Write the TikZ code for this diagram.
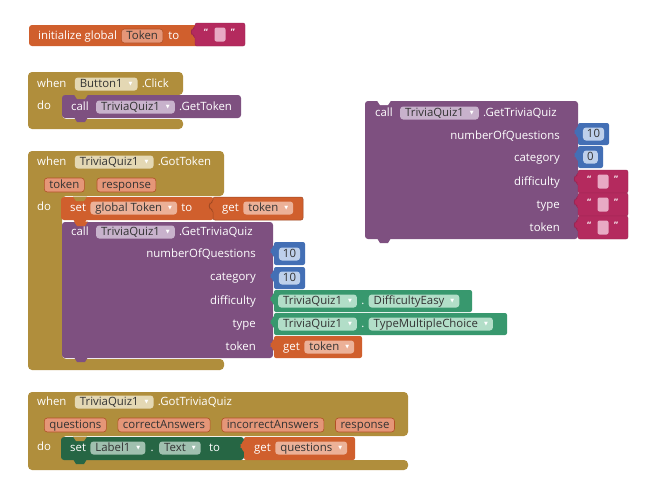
\documentclass[tikz,border=0pt]{standalone}
\usepackage{fontspec}
\setmainfont{Open Sans}
\newfontfamily\symf{DejaVu Sans}
\usepackage{tikz}
\usetikzlibrary{positioning}
\definecolor{ctrl}{RGB}{176,142,60}
\definecolor{ctrllt}{RGB}{228,216,180}
\definecolor{vars}{RGB}{208,95,45}
\definecolor{varslt}{RGB}{236,177,152}
\definecolor{argc}{RGB}{229,150,120}
\definecolor{txt}{RGB}{180,42,94}
\definecolor{txtlt}{RGB}{232,170,196}
\definecolor{comp}{RGB}{126,80,128}
\definecolor{complt}{RGB}{200,178,204}
\definecolor{math}{RGB}{67,111,181}
\definecolor{mathlt}{RGB}{190,208,235}
\definecolor{enum}{RGB}{56,152,110}
\definecolor{enumlt}{RGB}{178,222,200}
\definecolor{setc}{RGB}{38,102,68}
\definecolor{setlt}{RGB}{160,192,175}

% dropdown arrow inside a field
\newcommand\dd{\hspace{6pt}\textcolor{white}{\symf\fontsize{5}{5}\selectfont\raisebox{1.5pt}{▼}}}
% value block with its tab on the left: [extra]{colour}{x1}{y1}{x2}{y2}
\newcommand\valblk[6][]{%
  \path[fill=#2,rounded corners=2pt,#1] (#3,#4+13) -- (#3-3,#4+12) -- (#3-4,#4+9) -- (#3-3,#4+6)
    -- (#3,#4+5) -- (#3,#4) -- (#5,#4) -- (#5,#6) -- (#3,#6) -- cycle;}
% statement block: {colour}{x1}{y1}{x2}{y2}{colour of the notch on top}
\newcommand\stmblk[6]{%
  \fill[#1,rounded corners=3pt] (#2,#3) rectangle (#4,#5);
  \fill[#1] (#2+12,#5-1) -- (#2+15,#5+4) -- (#2+23,#5+4) -- (#2+26,#5-1) -- cycle;
  \fill[#6] (#2+12,#3-0.5) -- (#2+15,#3+4) -- (#2+23,#3+4) -- (#2+26,#3-0.5) -- cycle;}
% event handler: {y top}{x right}{y do top}{y do bottom}{y bottom}
\newcommand\evblk[5]{%
  \fill[ctrl,rounded corners=4pt] (28,#1) -- (#2,#1) -- (#2,#3) -- (62,#3) -- (62,#4)
    -- (#2,#4) -- (#2,#5) -- (28,#5) -- cycle;}
% text block: {name}{x}{y top}
\newcommand\strval[3]{%
  \valblk[draw=txt!85!black,line width=0.4pt]{txt}{#2}{#3}{#2+50}{#3+23}
  \node[qt] (#1l) at (#2+11,#3+9) {“};
  \node[sq] (#1) at (#2+25,#3+11.5) {};
  \node[qt] (#1r) at (#2+38,#3+9) {”};}

\begin{document}
\begin{tikzpicture}[x=1pt, y=-1pt, font=\fontsize{11.4}{13}\selectfont,
    lbl/.style={text=white, inner sep=0pt, anchor=west, text height=8.5pt, text depth=2.5pt},
    chip/.style={fill=#1, rounded corners=3pt, inner xsep=5pt, inner ysep=0pt,
                 minimum height=13pt, text height=8.5pt, text depth=2.5pt, text=black!80},
    arg/.style={chip=#1, draw=vars!85!black, line width=0.6pt, minimum height=14pt},
    num/.style={chip=mathlt, inner xsep=4pt},
    qt/.style={text=white, inner sep=0pt, font=\small\bfseries},
    sq/.style={fill=txtlt, rounded corners=2pt, minimum width=11pt, minimum height=14pt, inner sep=0pt}]
  \useasboundingbox (0,0) rectangle (665,483);
  \fill[white] (0,0) rectangle (665,483);

  % initialize global Token
  \fill[vars,rounded corners=3pt] (29,25) rectangle (200,46);
  \node[lbl] (ini) at (38,36) {initialize global};
  \node[arg=argc, right=4pt of ini] (gtok) {Token};
  \node[lbl, right=5pt of gtok] (ito) {to};
  \strval{s0}{195}{23}

  % when Button1.Click
  \evblk{72}{183}{95}{119}{129}
  \node[lbl] (wb) at (37,84) {when};
  \node[chip=ctrllt, right=8pt of wb] (btn) {Button1\dd};
  \node[lbl, right=4pt of btn] (clk) {.Click};
  \node[lbl] (dob) at (37,106) {do};
  \stmblk{comp}{62}{95}{241}{118}{ctrl}
  \node[lbl] (cb) at (71,107) {call};
  \node[chip=complt, right=7pt of cb] (tq0) {TriviaQuiz1\dd};
  \node[lbl, right=4pt of tq0] (gt) {.GetToken};

  % loose call block
  \stmblk{comp}{365}{101}{578}{239}{white}
  \node[lbl] (cc) at (375,113) {call};
  \node[chip=complt, right=7pt of cc] (tq1) {TriviaQuiz1\dd};
  \node[lbl, right=4pt of tq1] (gtq1) {.GetTriviaQuiz};
  \foreach \n/\t/\y in {nq/numberOfQuestions/136, ca/category/158, di/difficulty/182, ty/type/205, to/token/228}
    \node[lbl, anchor=east] (c\n) at (560,\y) {\t};
  \valblk{math}{578}{123}{609}{145}
  \node[num] (cn1) at (593.5,134) {10};
  \valblk{math}{578}{146}{603}{168}
  \node[num] (cn2) at (590.5,157) {0};
  \strval{s1}{578}{170}
  \strval{s2}{578}{193}
  \strval{s3}{578}{216}

  % when TriviaQuiz1.GotToken
  \evblk{151}{224}{196}{359}{370}
  \node[lbl] (wd) at (37,162) {when};
  \node[chip=ctrllt, right=8pt of wd] (tq2) {TriviaQuiz1\dd};
  \node[lbl, right=4pt of tq2] (gtk) {.GotToken};
  \node[arg=argc, anchor=west] (ptok) at (44,185) {token};
  \node[arg=argc, right=12pt of ptok] (presp) {response};
  \node[lbl] (dod) at (37,207) {do};
  \stmblk{comp}{62}{222}{273}{358}{vars}
  \stmblk{vars}{61}{197}{214}{220}{ctrl}
  \node[lbl] (sd) at (70,208) {set};
  \node[chip=varslt, right=4pt of sd] (gvt) {global Token\dd};
  \node[lbl, right=4pt of gvt] (sto) {to};
  \valblk[draw=vars!75!black,line width=0.5pt]{vars}{213}{197}{303}{220}
  \node[lbl] (g1) at (222,208) {get};
  \node[chip=varslt, right=4pt of g1] (gv1) {token\dd};
  \node[lbl] (cd) at (71,232) {call};
  \node[chip=complt, right=7pt of cd] (tq3) {TriviaQuiz1\dd};
  \node[lbl, right=4pt of tq3] (gtq3) {.GetTriviaQuiz};
  \foreach \n/\t/\y in {nq/numberOfQuestions/254, ca/category/277, di/difficulty/301, ty/type/324, to/token/347}
    \node[lbl, anchor=east] (d\n) at (256,\y) {\t};
  \valblk{math}{274}{242}{305}{265}
  \node[num] (dn1) at (289.5,254) {10};
  \valblk{math}{274}{267}{305}{289}
  \node[num] (dn2) at (289.5,278) {10};
  \valblk{enum}{274}{290}{472}{312}
  \node[chip=enumlt, anchor=west] (e1a) at (278,301) {TriviaQuiz1\dd};
  \node[lbl, right=4pt of e1a] (e1d) {.};
  \node[chip=enumlt, right=4pt of e1d] (e1b) {DifficultyEasy\dd};
  \valblk{enum}{274}{313}{507}{335}
  \node[chip=enumlt, anchor=west] (e2a) at (278,324) {TriviaQuiz1\dd};
  \node[lbl, right=4pt of e2a] (e2d) {.};
  \node[chip=enumlt, right=4pt of e2d] (e2b) {TypeMultipleChoice\dd};
  \valblk{vars}{274}{336}{362}{358}
  \node[lbl] (g2) at (283,347) {get};
  \node[chip=varslt, right=4pt of g2] (gv2) {token\dd};

  % when TriviaQuiz1.GotTriviaQuiz
  \evblk{392}{408}{436}{460}{470}
  \node[lbl] (we) at (37,402) {when};
  \node[chip=ctrllt, right=8pt of we] (tq4) {TriviaQuiz1\dd};
  \node[lbl, right=4pt of tq4] (gtq4) {.GotTriviaQuiz};
  \node[arg=argc, anchor=west] (pq) at (44,425) {questions};
  \node[arg=argc, right=11pt of pq] (pca) {correctAnswers};
  \node[arg=argc, right=11pt of pca] (pia) {incorrectAnswers};
  \node[arg=argc, right=11pt of pia] (pre) {response};
  \node[lbl] (doe) at (37,447) {do};
  \stmblk{setc}{61}{437}{244}{460}{ctrl}
  \node[lbl] (se) at (70,448) {set};
  \node[chip=setlt, right=4pt of se] (lab) {Label1\dd};
  \node[lbl, right=5pt of lab] (ld) {.};
  \node[chip=setlt, right=5pt of ld] (ltx) {Text\dd};
  \node[lbl, right=8pt of ltx] (lto) {to};
  \valblk{vars}{244}{437}{355}{460}
  \node[lbl] (g3) at (254,448) {get};
  \node[chip=varslt, right=4pt of g3] (gv3) {questions\dd};
\end{tikzpicture}
\end{document}
